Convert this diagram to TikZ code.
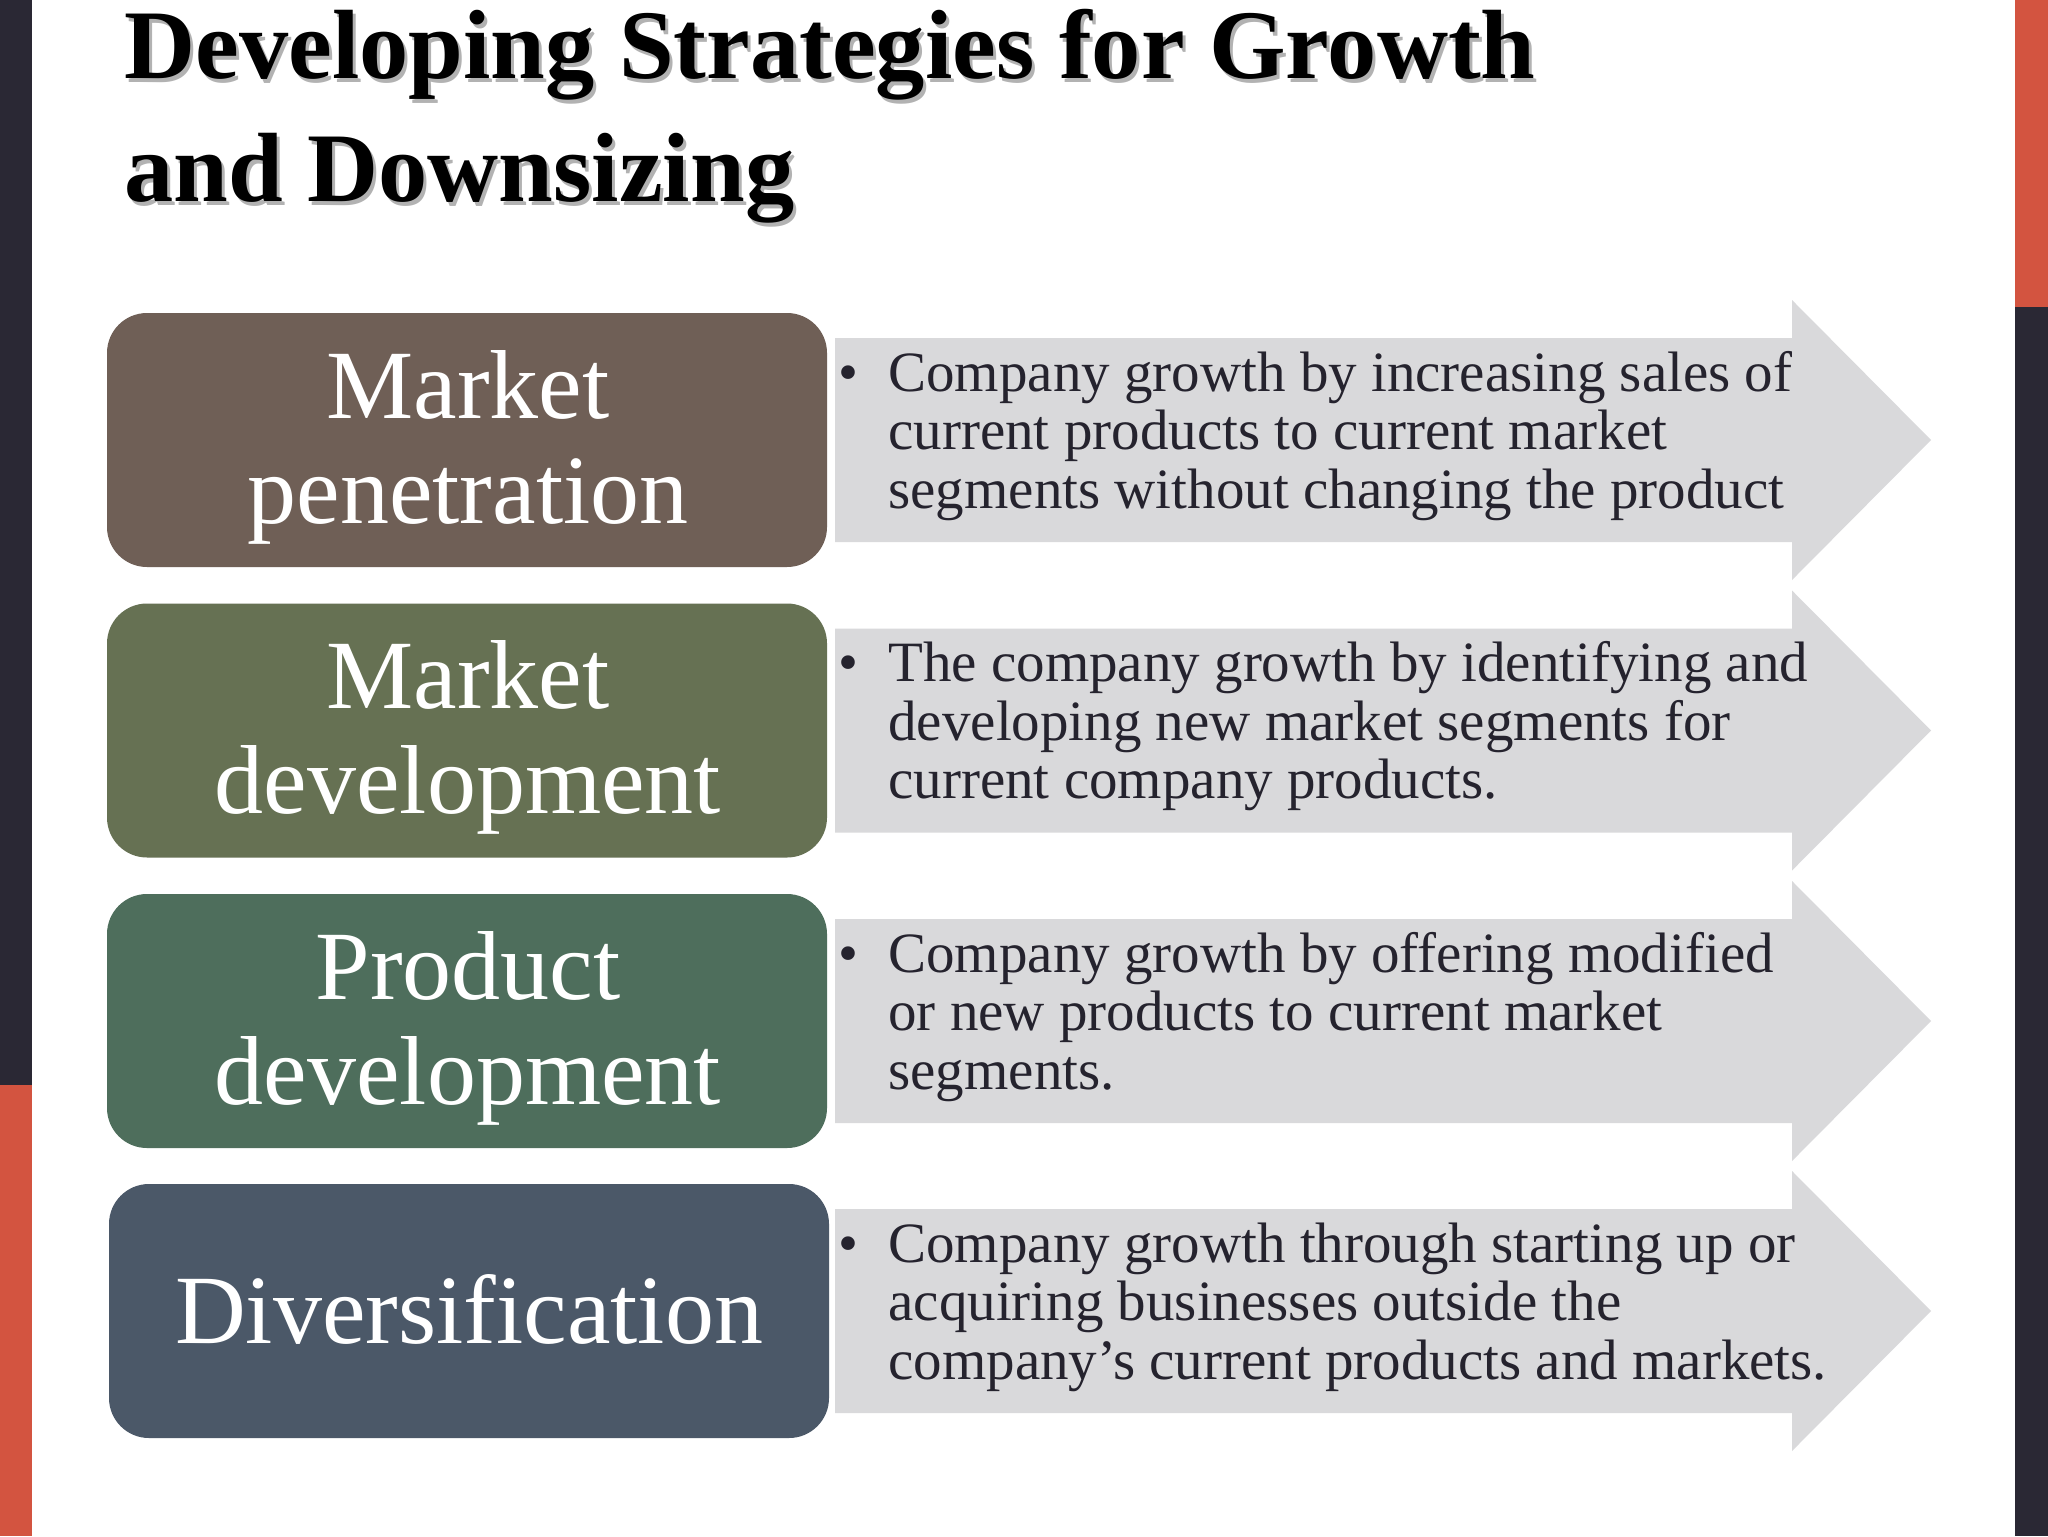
\documentclass[tikz,border=0pt]{standalone}
\usepackage{fontspec}
\setmainfont{Liberation Serif}
\definecolor{bardark}{HTML}{2A2834}
\definecolor{barred}{HTML}{D35440}
\definecolor{boxA}{HTML}{6F5F56}
\definecolor{boxB}{HTML}{667153}
\definecolor{boxC}{HTML}{4E6E5C}
\definecolor{boxD}{HTML}{4B5868}
\definecolor{arrowgrey}{HTML}{D9D9DB}
\definecolor{desctext}{HTML}{25232E}
\newcommand\linesC[1]{\vtop{\halign{\hfil##\hfil\cr#1\crcr}}}
\newcommand\linesL[1]{\vtop{\halign{##\hfil\cr#1\crcr}}}
\tikzset{
  titletext/.style={anchor=base west, inner sep=0pt, font=\fontsize{49.2}{52}\selectfont\bfseries},
  stratbox/.style={fill=#1, rounded corners=20pt, minimum width=360pt, minimum height=127pt, inner sep=0pt},
  stratlabel/.style={anchor=base, inner sep=0pt, text=white, font=\fontsize{49}{52.5}\selectfont},
  desc/.style={anchor=base west, inner sep=0pt, text=desctext, font=\fontsize{28.5}{29.25}\selectfont},
  bulletmark/.style={anchor=base west, inner sep=0pt, text=desctext, font=\fontsize{28.5}{29.25}\selectfont},
}
\begin{document}
\begin{tikzpicture}[x=0.5pt,y=-0.5pt]
\useasboundingbox (0,0) rectangle (2048,1536);
\fill[white] (0,0) rectangle (2048,1536);
% side bars
\fill[bardark] (0,0) rectangle (32,1085);
\fill[barred] (0,1085) rectangle (32,1536);
\fill[barred] (2015,0) rectangle (2048,307);
\fill[bardark] (2015,307) rectangle (2048,1536);
% title with shadow
\node[titletext, text=black!30] (titleAs) at (127,83) {Developing Strategies for Growth};
\node[titletext, text=black!30] (titleBs) at (127,205) {and Downsizing};
\node[titletext, text=black] (titleA) at (124,79) {Developing Strategies for Growth};
\node[titletext, text=black] (titleB) at (124,201) {and Downsizing};
% arrows
\foreach \c in {440,730.5,1021,1311}{
  \fill[arrowgrey] (835,\c-102) -- (1792,\c-102) -- (1792,\c-140) -- (1931,\c)
     -- (1792,\c+140) -- (1792,\c+102) -- (835,\c+102) -- cycle;
}
% boxes
\node[stratbox=boxA] (boxA) at (467,440) {};
\node[stratbox=boxB] (boxB) at (467,730.5) {};
\node[stratbox=boxC] (boxC) at (467,1021) {};
\node[stratbox=boxD] (boxD) at (469,1311) {};
\node[stratlabel] (labA) at (468,418) {\linesC{Market\cr penetration}};
\node[stratlabel] (labB) at (468,708.5) {\linesC{Market\cr development}};
\node[stratlabel] (labC) at (468,999) {\linesC{Product\cr development}};
\node[stratlabel] (labD) at (469,1343) {Diversification};
% descriptions
\node[bulletmark] (bulA) at (838,391) {\textbullet};
\node[desc] (descA) at (888,391) {\linesL{Company growth by increasing sales of\cr current products to current market\cr segments without changing the product}};
\node[bulletmark] (bulB) at (838,681.5) {\textbullet};
\node[desc] (descB) at (888,681.5) {\linesL{The company growth by identifying and\cr developing new market segments for\cr current company products.}};
\node[bulletmark] (bulC) at (838,972) {\textbullet};
\node[desc] (descC) at (888,972) {\linesL{Company growth by offering modified\cr or new products to current market\cr segments.}};
\node[bulletmark] (bulD) at (838,1262) {\textbullet};
\node[desc] (descD) at (888,1262) {\linesL{Company growth through starting up or\cr acquiring businesses outside the\cr company’s current products and markets.}};
\end{tikzpicture}
\end{document}
